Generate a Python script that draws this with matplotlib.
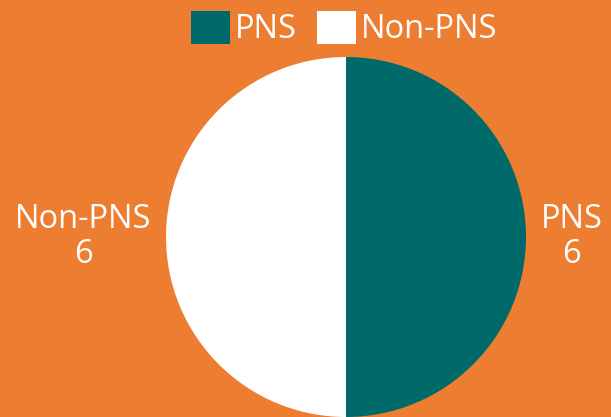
import matplotlib
matplotlib.use("Agg")
from matplotlib import pyplot as plt, patches

categories = ["PNS", "Non-PNS"]
values = [6, 6]
colors = ["#006A6A", "#FFFFFF"]
BG = "#ED7D31"

plt.rcParams['font.family'] = ['Open Sans', 'DejaVu Sans']

fig = plt.figure(figsize=(6.11, 4.17), dpi=100, facecolor=BG)
# pie area: centre at (346, 237) px, radius 180 px
ax = fig.add_axes([166 / 611, 0, 360 / 611, 360 / 417])
ax.set_facecolor(BG)

labels = [f"{c}\n{v}" for c, v in zip(categories, values)]
wedges, texts = ax.pie(values, labels=labels, colors=colors, startangle=90, counterclock=False,
                       labeldistance=1.08, radius=1.0,
                       textprops={'color': 'white', 'fontsize': 23.5},
                       wedgeprops={'linewidth': 0})
for t in texts:
    t.set_multialignment('center')
    t.set_linespacing(1.1)
ax.set_xlim(-1, 1)
ax.set_ylim(-1, 1)
ax.set_aspect('equal')
ax.axis('off')

handles = [patches.Patch(facecolor=c, edgecolor='none') for c in colors]
fig.legend(handles, categories, loc='upper center', bbox_to_anchor=(0.563, 1.045), ncol=2, frameon=False,
           handlelength=1.2, handleheight=1.2, handletextpad=0.15, columnspacing=0.6,
           labelcolor='white', fontsize=23.5)

fig.savefig("out.png", dpi=100, facecolor=BG)
